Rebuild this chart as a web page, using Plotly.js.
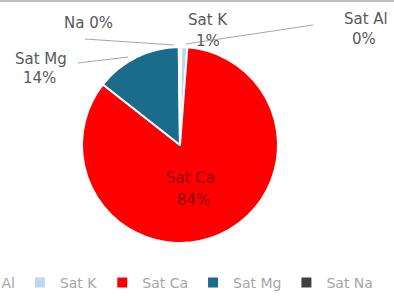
<!DOCTYPE html>
<html>
<head>
<meta charset="utf-8">
<script src="https://cdn.plot.ly/plotly-3.0.1.min.js"></script>
<style>html,body{margin:0;padding:0;background:#fff;overflow:hidden;width:394px;height:296px;}#chart{width:560px;height:296px;margin-left:-66px;}</style>
</head>
<body>
<div id="chart"></div>
<script>
// Data
const labels = ['Sat Al', 'Sat K', 'Sat Ca', 'Sat Mg', 'Sat Na'];
const values = [0.2, 1.0, 84.4, 14.2, 0.2];
const pctText = ['0%', '1%', '84%', '14%', '0%'];
const labelNames = ['Sat Al', 'Sat K', 'Sat Ca', 'Sat Mg', 'Na 0%'];
const labelPcts = ['0%', '1%', '84%', '14%', ''];
const colors = ['#8c8c8c', '#bdd7ee', '#ff0000', '#1a6b8c', '#404040'];

// Canvas is wider than the window; the leftmost part (start of legend) is clipped like the reference
const OFF = 66, EXTRA = 100;
const W = 394 + OFF + EXTRA, H = 296;
const px = x => (x + OFF) / W;
const py = y => 1 - y / H;
const FONT = 'DejaVu Sans, sans-serif';

const trace = {
  type: 'pie',
  labels: labels,
  values: values,
  sort: false,
  direction: 'clockwise',
  rotation: 0,
  marker: { colors: colors, line: { color: '#ffffff', width: 2 } },
  textinfo: 'none',
  hoverinfo: 'label+percent',
  domain: { x: [px(82), px(278)], y: [py(243), py(47)] }
};

// Label positions (pixel layout)
const labelPos = [
  { name: [366, 19], pct: [364, 39] },
  { name: [208, 20], pct: [208, 41] },
  { name: [190, 178], pct: [193, 200] },
  { name: [41, 59], pct: [39, 78] },
  { name: [88, 23], pct: null }
];
const annotations = [];
labelPos.forEach((p, i) => {
  const col = i === 2 ? '#8b0000' : '#595959';
  annotations.push({ xref: 'paper', yref: 'paper', x: px(p.name[0]), y: py(p.name[1]), xanchor: 'center', yanchor: 'middle', text: labelNames[i], showarrow: false, font: { size: 15, color: col, family: FONT } });
  if (p.pct) annotations.push({ xref: 'paper', yref: 'paper', x: px(p.pct[0]), y: py(p.pct[1]), xanchor: 'center', yanchor: 'middle', text: labelPcts[i], showarrow: false, font: { size: 15, color: col, family: FONT } });
});

const leaderLines = [
  [[313, 25], [186, 44]],
  [[85, 39], [174, 45]],
  [[78, 63], [128, 57]]
];
const shapes = leaderLines.map(l => ({ type: 'line', xref: 'paper', yref: 'paper', x0: px(l[0][0]), y0: py(l[0][1]), x1: px(l[1][0]), y1: py(l[1][1]), line: { color: '#a6a6a6', width: 1 } }));
shapes.push({ type: 'line', xref: 'paper', yref: 'paper', x0: 0, x1: 1, y0: py(1), y1: py(1), line: { color: '#bfbfbf', width: 2 } });

const layout = {
  width: W, height: H,
  margin: { l: 0, r: 0, t: 0, b: 0, autoexpand: false },
  paper_bgcolor: '#ffffff',
  showlegend: true,
  legend: { orientation: 'h', x: 0, xanchor: 'left', y: py(283), yanchor: 'middle', font: { size: 14, color: '#a6a6a6', family: FONT }, traceorder: 'normal', itemwidth: 30 },
  annotations: annotations,
  shapes: shapes
};

Plotly.newPlot('chart', [trace], layout, { displayModeBar: false, staticPlot: true });
</script>
</body>
</html>
